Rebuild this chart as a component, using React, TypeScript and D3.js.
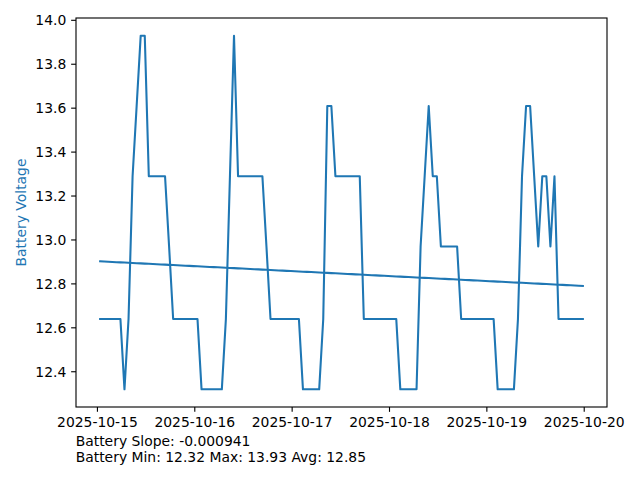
import React from "react";
import * as d3 from "d3";

// ---- data ----
const START_TIME = "2025-10-15T00:40:00"; // first hourly sample
const voltage: number[] = [
  12.64, 12.64, 12.64, 12.64, 12.64, 12.64, 12.32, 12.64, 13.29, 13.61,
  13.93, 13.93, 13.29, 13.29, 13.29, 13.29, 13.29, 12.97, 12.64, 12.64,
  12.64, 12.64, 12.64, 12.64, 12.64, 12.32, 12.32, 12.32, 12.32, 12.32,
  12.32, 12.64, 13.29, 13.93, 13.29, 13.29, 13.29, 13.29, 13.29, 13.29,
  13.29, 12.97, 12.64, 12.64, 12.64, 12.64, 12.64, 12.64, 12.64, 12.64,
  12.32, 12.32, 12.32, 12.32, 12.32, 12.64, 13.61, 13.61, 13.29, 13.29,
  13.29, 13.29, 13.29, 13.29, 13.29, 12.64, 12.64, 12.64, 12.64, 12.64,
  12.64, 12.64, 12.64, 12.64, 12.32, 12.32, 12.32, 12.32, 12.32, 12.97,
  13.29, 13.61, 13.29, 13.29, 12.97, 12.97, 12.97, 12.97, 12.97, 12.64,
  12.64, 12.64, 12.64, 12.64, 12.64, 12.64, 12.64, 12.64, 12.32, 12.32,
  12.32, 12.32, 12.32, 12.64, 13.29, 13.61, 13.61, 13.29, 12.97, 13.29,
  13.29, 12.97, 13.29, 12.64, 12.64, 12.64, 12.64, 12.64, 12.64, 12.64,
];
const xTickLabels = ["2025-10-15", "2025-10-16", "2025-10-17", "2025-10-18", "2025-10-19", "2025-10-20"];
const yTicks = [12.4, 12.6, 12.8, 13.0, 13.2, 13.4, 13.6, 13.8, 14.0];
const batterySlope = -0.000941; // per hour
const batteryMin = 12.32;
const batteryMax = 13.93;
const batteryAvg = 12.85;
const yLabel = "Battery Voltage";

// ---- layout ----
const W = 640, H = 480;
const L = 76, R = 607, T = 18, B = 407;
const BLUE = "#1f77b4";
const FONT = "DejaVu Sans, Verdana, sans-serif";
const FS = 13.9;

export default function App() {
  const start = new Date(START_TIME).getTime();
  const HOUR = 3600 * 1000;
  const pts = voltage.map((v, i) => ({ t: new Date(start + i * HOUR), h: i, v }));
  const t0 = pts[0].t.getTime(), t1 = pts[pts.length - 1].t.getTime();
  const tPad = (t1 - t0) * 0.05;
  const x = d3.scaleTime().domain([new Date(t0 - tPad), new Date(t1 + tPad)]).range([L, R]);
  const vMin = d3.min(voltage)!, vMax = d3.max(voltage)!;
  const vPad = (vMax - vMin) * 0.05;
  const y = d3.scaleLinear().domain([vMin - vPad, vMax + vPad]).range([B, T]);

  const line = d3.line<{ t: Date; v: number }>().x(d => x(d.t)).y(d => y(d.v));
  const meanH = d3.mean(pts, d => d.h)!;
  const meanV = d3.mean(voltage)!;
  const trend = pts.map(d => ({ t: d.t, v: meanV + batterySlope * (d.h - meanH) }));

  const xTicks = xTickLabels.map(s => ({ s, d: new Date(s + "T00:00:00") }));

  return (
    <svg width={W} height={H} style={{ position: "absolute", left: 0, top: 0, background: "#fff" }}
      fontFamily={FONT}>
      <rect x={0} y={0} width={W} height={H} fill="#fff" />
      <path d={line(pts) || ""} fill="none" stroke={BLUE} strokeWidth={2.08}
        strokeLinejoin="round" strokeLinecap="square" />
      <path d={line(trend) || ""} fill="none" stroke={BLUE} strokeWidth={2.08}
        strokeLinejoin="round" strokeLinecap="square" />
      <rect x={L} y={T} width={R - L} height={B - T} fill="none" stroke="#000" strokeWidth={1.11} />
      {yTicks.map(v => (
        <g key={v}>
          <line x1={L - 4.86} x2={L} y1={y(v)} y2={y(v)} stroke="#000" strokeWidth={1.11} />
          <text x={L - 9.7} y={y(v)} textAnchor="end" dominantBaseline="central" fontSize={FS} fill="#000">
            {v.toFixed(1)}
          </text>
        </g>
      ))}
      {xTicks.map(({ s, d }) => (
        <g key={s}>
          <line x1={x(d)} x2={x(d)} y1={B} y2={B + 4.86} stroke="#000" strokeWidth={1.11} />
          <text x={x(d)} y={B + 20} textAnchor="middle" fontSize={FS} fill="#000">{s}</text>
        </g>
      ))}
      <text transform={`translate(20.5,${(T + B) / 2}) rotate(-90)`} textAnchor="middle"
        dominantBaseline="central" fontSize={FS} fill={BLUE}>{yLabel}</text>
      <text x={75.7} y={446} fontSize={FS} fill="#000">{`Battery Slope: ${batterySlope.toFixed(6)}`}</text>
      <text x={75.7} y={462} fontSize={FS} fill="#000">
        {`Battery Min: ${batteryMin.toFixed(2)} Max: ${batteryMax.toFixed(2)} Avg: ${batteryAvg.toFixed(2)}`}
      </text>
    </svg>
  );
}
